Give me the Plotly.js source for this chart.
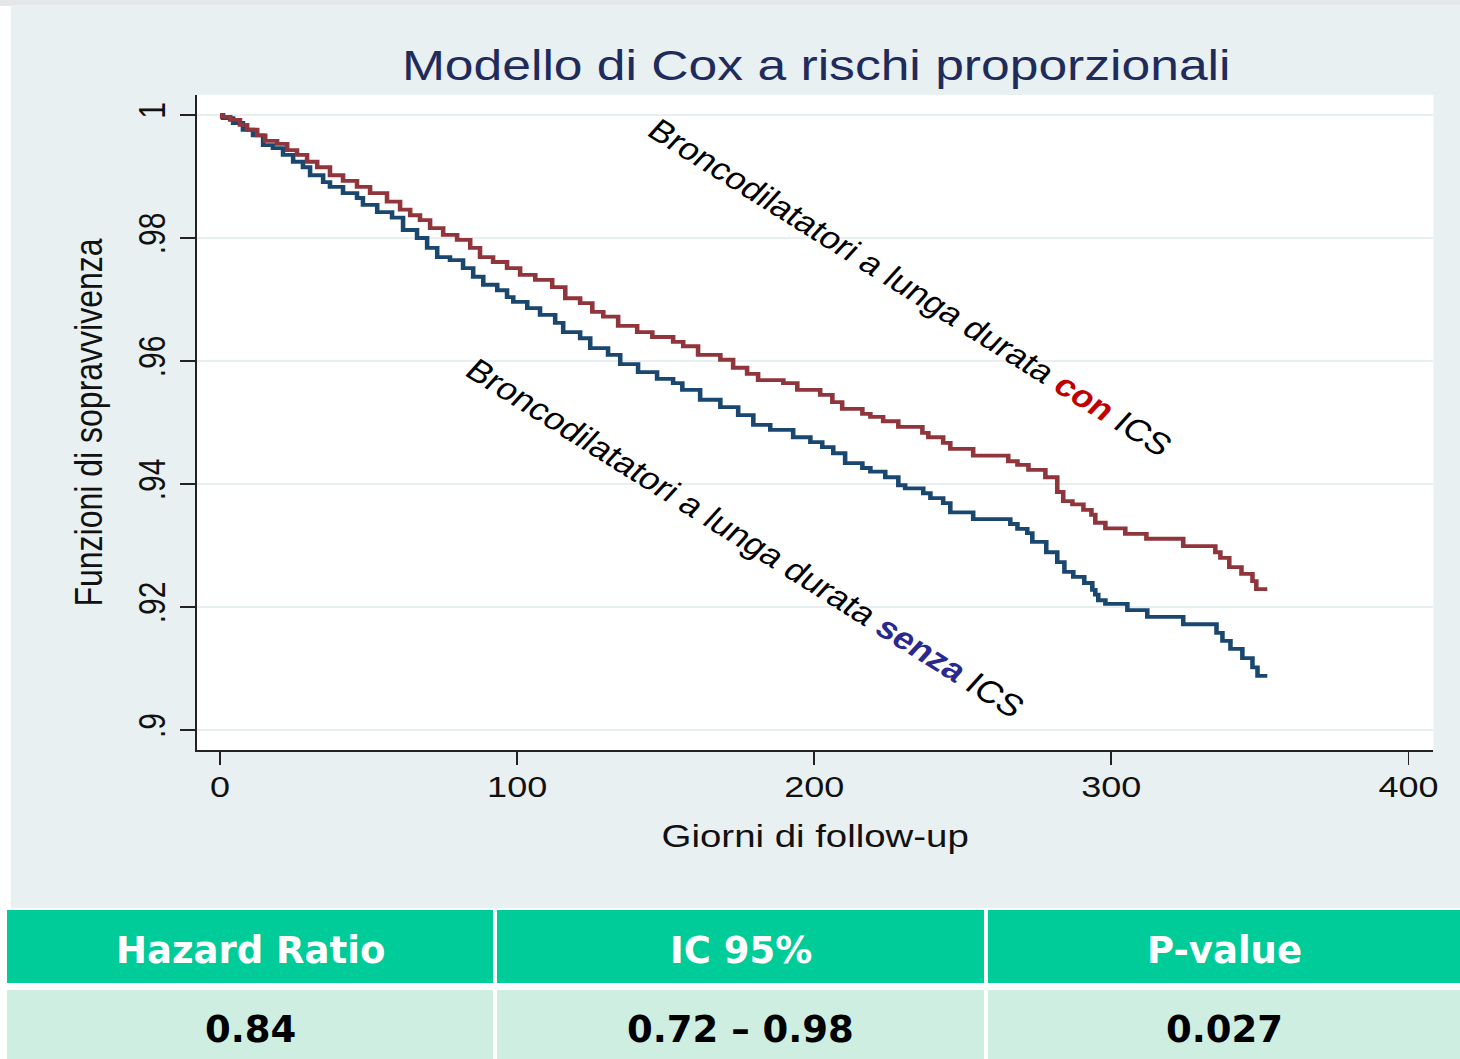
<!DOCTYPE html>
<html><head><meta charset="utf-8">
<script src="https://cdn.plot.ly/plotly-3.0.1.min.js"></script>
<style>
html,body{margin:0;padding:0;background:#fff;width:1460px;height:1059px;overflow:hidden;}
#chartWrap{position:absolute;left:0;top:0;width:1460px;height:909px;overflow:hidden;}
#chart{position:absolute;left:0;top:0;transform-origin:0 0;}
#table{position:absolute;left:0;top:909px;width:1460px;height:150px;}
</style></head><body>
<div id="chartWrap"><div id="chart"></div></div>
<div id="table"></div>
<script>
// ---------------- DATA ----------------
const chartTitle = 'Modello di Cox a rischi proporzionali';
const xTitle = 'Giorni di follow-up';
const yTitle = 'Funzioni di sopravvivenza';
const xTickVals = [0, 100, 200, 300, 400];
const yTickVals = [0.9, 0.92, 0.94, 0.96, 0.98, 1];
const yTickText = ['.9', '.92', '.94', '.96', '.98', '1'];

// Broncodilatatori a lunga durata CON ICS (survival step function)
const daysCon = [0,0.7,3.4,6.7,9.1,12.5,15.2,19.2,22.6,25.9,29.3,32.7,37.0,41.4,46.1,50.5,56.2,60.6,64.0,67.3,70.7,75.1,79.8,84.2,87.5,91.9,96.6,101.0,106.1,111.8,116.2,121.2,125.3,129.0,134.0,140.4,145.5,152.5,155.9,160.9,168.4,172.7,177.4,181.1,189.6,194.3,202.0,206.1,209.4,216.2,218.9,223.2,228.3,236.4,238.4,243.4,245.8,253.5,265.3,268.4,272.1,277.8,281.8,283.8,286.9,290.6,293.3,294.6,298.0,304.7,311.8,324.2,335.0,336.7,339.7,343.8,347.5,348.8,352.5];
const survCon = [1.0000,0.9997,0.9992,0.9984,0.9976,0.9967,0.9958,0.9953,0.9943,0.9935,0.9924,0.9915,0.9902,0.9893,0.9883,0.9873,0.9859,0.9846,0.9837,0.9829,0.9816,0.9805,0.9797,0.9784,0.9769,0.9761,0.9751,0.9740,0.9732,0.9720,0.9702,0.9694,0.9680,0.9672,0.9657,0.9647,0.9639,0.9631,0.9624,0.9610,0.9602,0.9589,0.9579,0.9569,0.9564,0.9553,0.9545,0.9533,0.9522,0.9514,0.9509,0.9502,0.9493,0.9483,0.9476,0.9467,0.9457,0.9446,0.9437,0.9431,0.9423,0.9411,0.9387,0.9372,0.9367,0.9358,0.9350,0.9337,0.9328,0.9319,0.9311,0.9299,0.9289,0.9280,0.9265,0.9254,0.9242,0.9229,0.9229];

// Broncodilatatori a lunga durata SENZA ICS
const daysSenza = [0,1.0,4.4,7.7,11.1,14.5,17.8,21.2,24.6,27.9,30.3,34.7,37.0,41.4,46.1,48.1,52.9,57.9,61.6,66.3,69.7,73.1,77.4,81.8,85.2,88.6,93.3,96.6,98.7,103.4,107.7,112.8,115.5,121.2,124.6,130.6,134.7,140.7,147.1,152.5,155.6,161.6,168.4,174.4,179.5,185.2,192.9,198.7,202.7,206.4,210.4,216.2,218.9,223.9,228.3,230.6,236.7,239.1,243.4,245.8,253.5,266.0,268.4,271.7,273.4,278.1,281.8,284.2,287.2,290.9,293.6,294.6,295.6,298.0,305.4,312.1,324.2,335.4,337.4,340.1,344.1,347.5,349.2,352.5];
const survSenza = [1.0000,0.9995,0.9987,0.9976,0.9967,0.9951,0.9946,0.9935,0.9924,0.9915,0.9902,0.9891,0.9883,0.9873,0.9865,0.9854,0.9842,0.9833,0.9813,0.9800,0.9784,0.9769,0.9764,0.9751,0.9737,0.9724,0.9715,0.9704,0.9696,0.9686,0.9675,0.9662,0.9647,0.9637,0.9621,0.9610,0.9595,0.9582,0.9571,0.9564,0.9553,0.9537,0.9525,0.9512,0.9496,0.9488,0.9476,0.9468,0.9460,0.9450,0.9434,0.9426,0.9420,0.9411,0.9398,0.9393,0.9385,0.9377,0.9369,0.9354,0.9343,0.9335,0.9327,0.9320,0.9306,0.9289,0.9273,0.9257,0.9249,0.9239,0.9228,0.9220,0.9211,0.9205,0.9195,0.9184,0.9172,0.9158,0.9145,0.9132,0.9117,0.9102,0.9088,0.9088];

const labelCon = 'Broncodilatatori a lunga durata <b><span style="color:#c00000">con</span></b> ICS';
const labelSenza = 'Broncodilatatori a lunga durata <b><span style="color:#2a2a8e">senza</span></b> ICS';

const tableHeaders = ['Hazard Ratio', 'IC 95%', 'P-value'];
const tableValues = ['0.84', '0.72 \u2013 0.98', '0.027'];

// ---------------- CHART ----------------
const STRETCH = 1.2;           // the reference graph image is horizontally stretched
const W = 1460, H = 909;
const Wn = W / STRETCH;
const px = v => v / W;          // horizontal pixel -> paper fraction
const py = v => 1 - v / H;      // vertical pixel (from top) -> paper fraction
const FONT = 'Liberation Sans, Arial, Helvetica, sans-serif';

const chartEl = document.getElementById('chart');
chartEl.style.width = Wn + 'px';
chartEl.style.height = H + 'px';
chartEl.style.transform = 'scaleX(' + STRETCH + ')';

const traces = [
  {x: daysSenza, y: survSenza, type: 'scatter', mode: 'lines', line: {shape: 'hv', color: '#1a476f', width: 3.8}, hoverinfo: 'skip', showlegend: false},
  {x: daysCon, y: survCon, type: 'scatter', mode: 'lines', line: {shape: 'hv', color: '#90353b', width: 3.8}, hoverinfo: 'skip', showlegend: false}
];

const layout = {
  width: Wn, height: H, autosize: false,
  margin: {l: 0, r: 0, t: 0, b: 0, pad: 0},
  paper_bgcolor: '#ffffff', plot_bgcolor: '#ffffff',
  showlegend: false,
  title: {text: chartTitle, font: {family: FONT, size: 43, color: '#1f2b5b'}, x: px(816), xanchor: 'center', xref: 'paper', y: py(65), yanchor: 'middle', yref: 'paper'},
  xaxis: {
    domain: [px(197), px(1433)], range: [-7.74, 408.4], tickvals: xTickVals,
    ticks: 'outside', ticklen: 13, tickwidth: 1.5, tickcolor: '#222',
    showline: true, linecolor: '#222', linewidth: 1.5, showgrid: false, zeroline: false,
    tickfont: {family: FONT, size: 30, color: '#111'}, ticklabelstandoff: -3,
    title: {text: xTitle, font: {family: FONT, size: 32, color: '#111'}, standoff: 22},
    fixedrange: true
  },
  yaxis: {
    domain: [py(750), py(95)], range: [0.89675, 1.00325], tickvals: yTickVals, ticktext: yTickText,
    tickangle: -90, ticks: 'outside', ticklen: 13, tickwidth: 1.5, tickcolor: '#222',
    showline: true, linecolor: '#222', linewidth: 1.5,
    showgrid: true, gridcolor: '#e8eff1', gridwidth: 2.5, zeroline: false,
    tickfont: {family: FONT, size: 30, color: '#111'},
    title: {text: yTitle, font: {family: FONT, size: 32, color: '#111'}, standoff: 15},
    fixedrange: true
  },
  shapes: [
    {type: 'rect', xref: 'paper', yref: 'paper', x0: 0, x1: 1, y0: py(6), y1: 1, fillcolor: '#e4e6e7', line: {width: 0}, layer: 'below'},
    {type: 'rect', xref: 'paper', yref: 'paper', x0: px(11), x1: 1, y0: 0.001, y1: py(5), fillcolor: '#e9f0f2', line: {width: 0}, layer: 'below'},
    {type: 'rect', xref: 'paper', yref: 'paper', x0: px(197), x1: px(1433), y0: py(750), y1: py(95), fillcolor: '#ffffff', line: {width: 0}, layer: 'below'}
  ],
  annotations: [
    {x: 232.3, y: 0.9720, xref: 'x', yref: 'y', text: labelCon, textangle: 37, showarrow: false, font: {family: FONT, size: 30.5, color: '#000'}},
    {x: 176.8, y: 0.9311, xref: 'x', yref: 'y', text: labelSenza, textangle: 37, showarrow: false, font: {family: FONT, size: 30.8, color: '#000'}}
  ]
};

Plotly.newPlot(chartEl, traces, layout, {staticPlot: true, displayModeBar: false});

// ---------------- TABLE ----------------
const TW = 1460, TH = 150, T0 = 909;
const tx = v => v / TW;
const ty = v => 1 - (v - T0) / TH;
const colEdges = [[7, 493], [497, 984], [988, 1460]];
const tShapes = [];
const tAnn = [];
colEdges.forEach((e, i) => {
  tShapes.push({type: 'rect', xref: 'paper', yref: 'paper', x0: tx(e[0]), x1: tx(e[1]), y0: ty(983), y1: ty(910), fillcolor: '#00cc99', line: {width: 0}});
  tShapes.push({type: 'rect', xref: 'paper', yref: 'paper', x0: tx(e[0]), x1: tx(e[1]), y0: 0, y1: ty(990), fillcolor: '#cdeee1', line: {width: 0}});
  const cx = tx((e[0] + e[1]) / 2);
  tAnn.push({x: cx, y: ty(950), xref: 'paper', yref: 'paper', text: '<b>' + tableHeaders[i] + '</b>', showarrow: false, xanchor: 'center', yanchor: 'middle', font: {family: 'DejaVu Sans, Verdana, sans-serif', size: 37, color: '#ffffff'}});
  tAnn.push({x: cx, y: ty(1029), xref: 'paper', yref: 'paper', text: '<b>' + tableValues[i] + '</b>', showarrow: false, xanchor: 'center', yanchor: 'middle', font: {family: 'DejaVu Sans, Verdana, sans-serif', size: 37, color: '#000000'}});
});
Plotly.newPlot('table', [], {
  width: TW, height: TH, autosize: false, margin: {l: 0, r: 0, t: 0, b: 0},
  paper_bgcolor: '#ffffff', plot_bgcolor: '#ffffff',
  xaxis: {visible: false, range: [0, 1]}, yaxis: {visible: false, range: [0, 1]},
  shapes: tShapes, annotations: tAnn
}, {staticPlot: true, displayModeBar: false});
</script>
</body></html>
